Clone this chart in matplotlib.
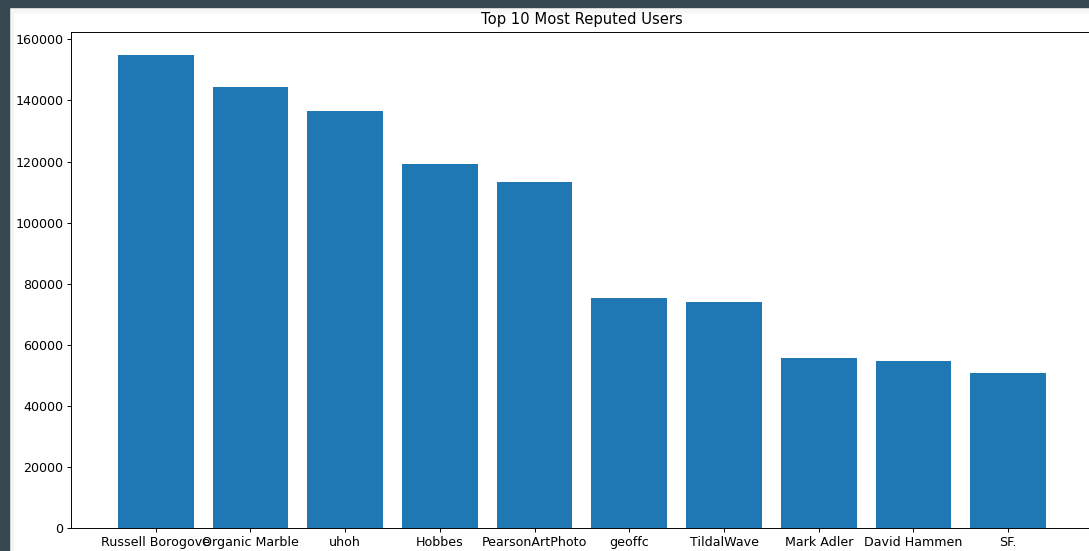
import matplotlib
matplotlib.use("Agg")
import matplotlib.pyplot as plt
from matplotlib.patches import Rectangle

users = ["Russell Borogove", "Organic Marble", "uhoh", "Hobbes", "PearsonArtPhoto",
         "geoffc", "TildalWave", "Mark Adler", "David Hammen", "SF."]
reputation = [154850, 144360, 136400, 119340, 113440, 75310, 74100, 55630, 54750, 50920]

W, H = 1089, 551
fig = plt.figure(figsize=(W / 100, H / 100), dpi=100)
fig.patch.set_facecolor("white")

s = 0.86  # screenshot scale
left_px, right_px, top_px, bot_px = 71.4, 1092.5, 31.5, 528.0
ax = fig.add_axes([left_px / W, (H - bot_px) / H,
                   (right_px - left_px) / W, (bot_px - top_px) / H])

ax.bar(users, reputation, color="#1f77b4", width=0.8)
ax.set_title("Top 10 Most Reputed Users", fontsize=10.6, pad=6 * s)
ax.tick_params(labelsize=9.1, length=3.5 * s, width=0.8 * s, pad=3.3 * s)
for sp in ax.spines.values():
    sp.set_linewidth(0.8 * s)

# screenshot frame
fig.patches.append(Rectangle((0, 1 - 12 / H), 1, 12 / H, transform=fig.transFigure,
                             color="#f6f6f6", zorder=-5))
fig.patches.append(Rectangle((0, 0), 13 / W, 1, transform=fig.transFigure,
                             color="#f6f6f6", zorder=-5))
fig.patches.append(Rectangle((0, 1 - 7 / H), 1, 7 / H, transform=fig.transFigure,
                             color="#37474f", zorder=10))
fig.patches.append(Rectangle((0, 0), 9 / W, 1, transform=fig.transFigure,
                             color="#37474f", zorder=10))

fig.savefig("out.png", dpi=100)
